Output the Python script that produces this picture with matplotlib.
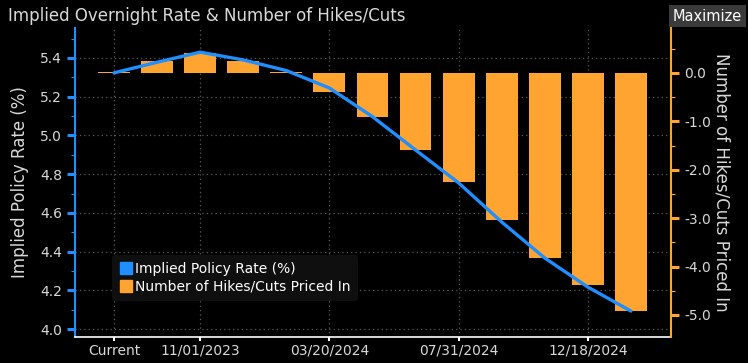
import matplotlib.pyplot as plt
from matplotlib.lines import Line2D
from matplotlib.ticker import MultipleLocator, FormatStrFormatter

# meeting dates (only some are labelled on the axis)
meetings = ['Current', '09/20/2023', '11/01/2023', '12/13/2023', '01/31/2024',
            '03/20/2024', '05/01/2024', '06/12/2024', '07/31/2024',
            '09/18/2024', '11/07/2024', '12/18/2024', '01/29/2025']
shown_labels = ['Current', '11/01/2023', '03/20/2024', '07/31/2024', '12/18/2024']

implied_rate = [5.323, 5.378, 5.43, 5.39, 5.335, 5.245, 5.097, 4.925,
                4.755, 4.553, 4.367, 4.217, 4.093]
hikes_cuts = [0.01, 0.25, 0.42, 0.25, 0.03, -0.39, -0.92, -1.59,
              -2.25, -3.04, -3.82, -4.38, -4.92]

blue = '#1f8fff'
orange = '#ffa331'
txt = '#d9d9d9'

plt.rcParams['font.family'] = ['DejaVu Sans']

fig = plt.figure(figsize=(7.48, 3.63), dpi=100, facecolor='black')
ax = fig.add_axes([0.1003, 0.0716, 0.7967, 0.8514])
ax.set_facecolor('black')
ax2 = ax.twinx()

x = list(range(len(meetings)))

ax2.bar(x, hikes_cuts, width=0.74, color=orange, zorder=2)
ax2.plot(x, implied_rate, color=blue, lw=2.4, zorder=3,
         transform=ax.transData, solid_capstyle='round')

ax.set_xlim(-0.905, 12.93)
ax.set_ylim(3.959, 5.555)
ax2.set_ylim(-5.455, 0.93)

label_pos = [meetings.index(m) for m in shown_labels]
ax.set_xticks(label_pos)
ax.set_xticklabels(shown_labels)

ax.yaxis.set_major_locator(MultipleLocator(0.2))
ax.yaxis.set_minor_locator(MultipleLocator(0.1))
ax.yaxis.set_major_formatter(FormatStrFormatter('%.1f'))
ax2.yaxis.set_major_locator(MultipleLocator(1.0))
ax2.yaxis.set_minor_locator(MultipleLocator(0.5))
ax2.yaxis.set_major_formatter(FormatStrFormatter('%.1f'))

ax.grid(True, color='#5a5a5a', linestyle=(0, (1, 2.5)), linewidth=0.9)

for a in (ax, ax2):
    for s in a.spines.values():
        s.set_visible(False)
ax.spines['left'].set_visible(True)
ax.spines['left'].set_color(blue)
ax.spines['left'].set_linewidth(1.5)
ax.spines['bottom'].set_visible(True)
ax.spines['bottom'].set_color('white')
ax.spines['bottom'].set_linewidth(1.2)
ax2.spines['right'].set_visible(True)
ax2.spines['right'].set_color(orange)
ax2.spines['right'].set_linewidth(1.5)

ax.tick_params(axis='y', which='major', colors=blue, labelcolor=txt,
               length=6, width=2.2, labelsize=10)
ax.tick_params(axis='y', which='minor', colors=blue, length=3, width=0.8)
ax2.tick_params(axis='y', which='major', colors=orange, labelcolor=txt,
                length=6, width=2.2, labelsize=10)
ax2.tick_params(axis='y', which='minor', colors=orange, length=3, width=0.8)
ax.tick_params(axis='x', colors='white', labelcolor=txt, length=3,
               width=1.5, labelsize=10, pad=2)

ax.set_ylabel('Implied Policy Rate (%)', color=txt, fontsize=12, labelpad=8)
ax2.set_ylabel('Number of Hikes/Cuts Priced In', color=txt, fontsize=12,
               rotation=270, labelpad=14)

handles = [Line2D([], [], marker='s', ls='none', color=blue, markersize=9),
           Line2D([], [], marker='s', ls='none', color=orange, markersize=9)]
leg = ax2.legend(handles, ['Implied Policy Rate (%)', 'Number of Hikes/Cuts Priced In'],
                 loc='lower left', bbox_to_anchor=(0.05, 0.095),
                 frameon=True, fontsize=10, handletextpad=0.2,
                 labelspacing=0.25, borderpad=0.5, handlelength=1.0)
leg.get_frame().set_facecolor('#0f0f0f')
leg.get_frame().set_edgecolor('none')
leg.get_frame().set_alpha(1)
for t in leg.get_texts():
    t.set_color('white')

fig.text(0.011, 0.955, 'Implied Overnight Rate & Number of Hikes/Cuts',
         color=txt, fontsize=12, va='center', ha='left')
fig.text(0.992, 0.955, 'Maximize', color='white', fontsize=10.5,
         va='center', ha='right',
         bbox=dict(boxstyle='square,pad=0.25', facecolor='#3a3a3a',
                   edgecolor='none'))

fig.savefig('out.png', dpi=100, facecolor='black')
